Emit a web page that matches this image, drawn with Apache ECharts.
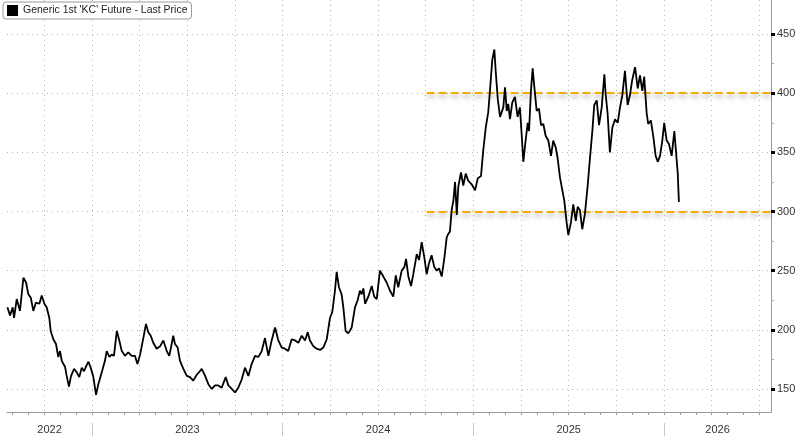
<!DOCTYPE html>
<html>
<head>
<meta charset="utf-8">
<script src="https://cdn.jsdelivr.net/npm/echarts@6/dist/echarts.min.js"></script>
<style>
html, body { margin: 0; padding: 0; background: #fff; }
#chart { width: 800px; height: 436px; }
</style>
</head>
<body>
<div id="chart"></div>
<script>
// readings of the KC (coffee) front future, time as decimal year
var dateYears = [
	2022.556, 2022.570, 2022.584, 2022.591, 2022.605, 2022.622, 2022.640, 2022.654, 2022.666, 2022.679,
	2022.692, 2022.706, 2022.724, 2022.736, 2022.750, 2022.762, 2022.776, 2022.783, 2022.797, 2022.811,
	2022.823, 2022.832, 2022.841, 2022.850, 2022.858, 2022.867, 2022.879, 2022.890, 2022.906, 2022.920,
	2022.933, 2022.946, 2022.958, 2022.969, 2022.981, 2022.993, 2023.007, 2023.021, 2023.033, 2023.051,
	2023.068, 2023.077, 2023.091, 2023.103, 2023.115, 2023.130, 2023.143, 2023.156, 2023.173, 2023.190,
	2023.208, 2023.225, 2023.238, 2023.252, 2023.269, 2023.283, 2023.295, 2023.308, 2023.321, 2023.339,
	2023.357, 2023.374, 2023.392, 2023.405, 2023.414, 2023.426, 2023.435, 2023.449, 2023.461, 2023.479,
	2023.497, 2023.514, 2023.531, 2023.549, 2023.566, 2023.575, 2023.593, 2023.610, 2023.628, 2023.645,
	2023.662, 2023.680, 2023.701, 2023.715, 2023.733, 2023.750, 2023.767, 2023.785, 2023.802, 2023.820,
	2023.837, 2023.855, 2023.872, 2023.890, 2023.907, 2023.925, 2023.942, 2023.960, 2023.977, 2023.995,
	2024.012, 2024.029, 2024.047, 2024.065, 2024.082, 2024.100, 2024.117, 2024.131, 2024.143, 2024.161,
	2024.178, 2024.196, 2024.213, 2024.231, 2024.248, 2024.260, 2024.274, 2024.283, 2024.295, 2024.309,
	2024.318, 2024.330, 2024.344, 2024.362, 2024.379, 2024.393, 2024.405, 2024.414, 2024.423, 2024.432,
	2024.449, 2024.467, 2024.480, 2024.493, 2024.510, 2024.528, 2024.545, 2024.563, 2024.580, 2024.593,
	2024.606, 2024.624, 2024.638, 2024.647, 2024.659, 2024.673, 2024.685, 2024.703, 2024.715, 2024.729,
	2024.743, 2024.755, 2024.767, 2024.781, 2024.795, 2024.808, 2024.820, 2024.834, 2024.848, 2024.860,
	2024.868, 2024.877, 2024.886, 2024.895, 2024.904, 2024.913, 2024.921, 2024.935, 2024.947, 2024.960,
	2024.973, 2024.991, 2025.009, 2025.023, 2025.040, 2025.052, 2025.065, 2025.078, 2025.087, 2025.099,
	2025.110, 2025.117, 2025.128, 2025.140, 2025.157, 2025.166, 2025.175, 2025.183, 2025.192, 2025.204,
	2025.218, 2025.232, 2025.244, 2025.253, 2025.262, 2025.274, 2025.285, 2025.292, 2025.302, 2025.311,
	2025.320, 2025.332, 2025.344, 2025.355, 2025.367, 2025.379, 2025.393, 2025.407, 2025.419, 2025.432,
	2025.442, 2025.454, 2025.463, 2025.477, 2025.489, 2025.498, 2025.512, 2025.524, 2025.537, 2025.547,
	2025.559, 2025.571, 2025.585, 2025.599, 2025.612, 2025.624, 2025.634, 2025.647, 2025.659, 2025.673,
	2025.687, 2025.694, 2025.704, 2025.716, 2025.729, 2025.743, 2025.757, 2025.769, 2025.781, 2025.795,
	2025.809, 2025.821, 2025.833, 2025.848, 2025.862, 2025.874, 2025.886, 2025.896, 2025.909, 2025.917,
	2025.931, 2025.944, 2025.956, 2025.967, 2025.979, 2025.991, 2026.001, 2026.014, 2026.026, 2026.040,
	2026.054, 2026.061, 2026.072, 2026.078
];
var prices = [
	219, 212, 219, 210, 226, 216, 244, 240, 230, 227,
	216, 223, 222, 229, 222, 219, 210, 199, 192, 188,
	177, 182, 174, 171, 169, 161, 152, 161, 167, 164,
	160, 168, 165, 169, 173, 168, 160, 145, 154, 164,
	174, 182, 177, 179, 178, 199, 191, 182, 178, 181,
	178, 178, 171, 179, 193, 205, 198, 195, 189, 184,
	186, 191, 182, 178, 185, 195, 188, 185, 174, 167,
	161, 160, 157, 162, 165, 167, 161, 154, 150, 153,
	153, 151, 160, 153, 150, 147, 151, 158, 168, 161,
	171, 178, 177, 182, 193, 178, 191, 202, 191, 185,
	184, 182, 192, 191, 189, 195, 191, 198, 191, 186,
	184, 183, 185, 192, 210, 215, 233, 249, 236, 230,
	219, 199, 197, 202, 219, 225, 233, 230, 235, 222,
	228, 237, 228, 226, 250, 245, 240, 233, 228, 246,
	236, 250, 253, 260, 245, 237, 247, 264, 259, 274,
	261, 247, 256, 263, 253, 250, 252, 245, 261, 278,
	281, 283, 301, 309, 325, 297, 321, 333, 322, 332,
	326, 323, 318, 328, 330, 352, 371, 384, 402, 428,
	437, 419, 395, 380, 388, 405, 385, 391, 378, 392,
	397, 380, 388, 366, 342, 360, 375, 368, 402, 421,
	405, 385, 387, 373, 374, 364, 360, 347, 360, 354,
	345, 329, 321, 309, 291, 280, 291, 306, 292, 304,
	301, 285, 298, 321, 346, 368, 390, 394, 373, 388,
	416, 399, 383, 350, 371, 378, 375, 388, 398, 419,
	390, 398, 411, 422, 404, 415, 402, 414, 383, 374,
	377, 363, 347, 342, 347, 360, 375, 360, 357, 347,
	368, 354, 332, 308
];
var seriesName = "Generic 1st 'KC' Future - Last Price";
var yTicks = [150, 200, 250, 300, 350, 400, 450];
var yMinorTicks = [175, 225, 275, 325, 375, 425];
var yearLabels = [2022, 2023, 2024, 2025, 2026];
var bandLevels = [300, 400];   // resistance / support lines
var bandStart = 2024.755;

var xMin = 2022.554, xMax = 2026.561;
var yMin = 130.5, yMax = 478.8;

// month ticks, quarter grid lines, year separators
var monthTicks = [], quarterTicks = [], yearTicks = [];
for (var m = Math.ceil(xMin * 12); m <= Math.floor(xMax * 12); m++) {
	monthTicks.push(m / 12);
	if (m % 3 === 0) quarterTicks.push(m / 12);
	if (m % 12 === 0) yearTicks.push(m / 12);
}
// year label sits in the middle of its visible span
var yearCenters = yearLabels.map(function (y) {
	return (Math.max(y, xMin) + Math.min(y + 1, xMax)) / 2;
});

var font = 'Liberation Sans';
var chart = echarts.init(document.getElementById('chart'));
chart.setOption({
	animation: false,
	textStyle: { fontFamily: font },
	grid: { left: 7, right: 29, top: 0, bottom: 24 },
	legend: {
		data: [seriesName],
		left: 3,
		top: 2,
		icon: 'rect',
		itemWidth: 11,
		itemHeight: 11,
		itemGap: 4,
		padding: [3, 4, 3, 4],
		backgroundColor: '#fff',
		borderColor: '#999',
		borderWidth: 1,
		borderRadius: 3,
		textStyle: { fontSize: 10.5, color: '#222', fontFamily: font }
	},
	xAxis: [
		{
			type: 'value', min: xMin, max: xMax, position: 'bottom',
			axisLine: { show: true, lineStyle: { color: '#999', width: 1 } },
			axisTick: { show: true, customValues: monthTicks, length: 3, lineStyle: { color: '#999' } },
			axisLabel: {
				customValues: yearCenters, margin: 12, fontSize: 11, color: '#333',
				formatter: function (v) { return String(Math.floor(v)); }
			},
			splitLine: { show: false }
		},
		{
			type: 'value', min: xMin, max: xMax, position: 'bottom', offset: 11,
			axisLine: { show: false },
			axisTick: { show: true, customValues: yearTicks, length: 14, lineStyle: { color: '#c8c8c8' } },
			axisLabel: { show: false },
			splitLine: { show: false }
		},
		{
			type: 'value', min: xMin, max: xMax, position: 'top',
			axisLine: { show: false },
			axisTick: { show: false, customValues: quarterTicks },
			axisLabel: { show: false },
			splitLine: { show: true, lineStyle: { color: '#b4b4b4', type: [1, 4] } }
		}
	],
	yAxis: [
		{
			type: 'value', min: yMin, max: yMax, position: 'right',
			axisLine: { show: true, lineStyle: { color: '#999', width: 1 } },
			axisTick: { show: true, customValues: yTicks, length: 4, lineStyle: { color: '#000', width: 3 } },
			axisLabel: { customValues: yTicks, margin: 6, fontSize: 11, color: '#333' },
			splitLine: { show: true, lineStyle: { color: '#b4b4b4', type: [1, 4] } }
		},
		{
			type: 'value', min: yMin, max: yMax, position: 'right',
			axisLine: { show: false },
			axisTick: { show: true, customValues: yMinorTicks, length: 3, lineStyle: { color: '#aaa' } },
			axisLabel: { show: false },
			splitLine: { show: false }
		}
	],
	series: [
		{
			name: seriesName,
			type: 'line',
			xAxisIndex: 0,
			yAxisIndex: 0,
			showSymbol: false,
			z: 3,
			color: '#000',
			lineStyle: { color: '#000', width: 1.8 },
			data: dateYears.map(function (t, i) { return [t, prices[i]]; }),
			markLine: {
				silent: true,
				z: 2,
				symbol: ['none', 'none'],
				label: { show: false },
				lineStyle: {
					color: '#f5ad00', width: 2, type: [8, 4],
					shadowColor: 'rgba(0,0,0,0.4)', shadowBlur: 5, shadowOffsetY: 3
				},
				data: bandLevels.map(function (v) {
					return [{ coord: [bandStart, v] }, { coord: [xMax, v] }];
				})
			}
		}
	]
});
</script>
</body>
</html>
